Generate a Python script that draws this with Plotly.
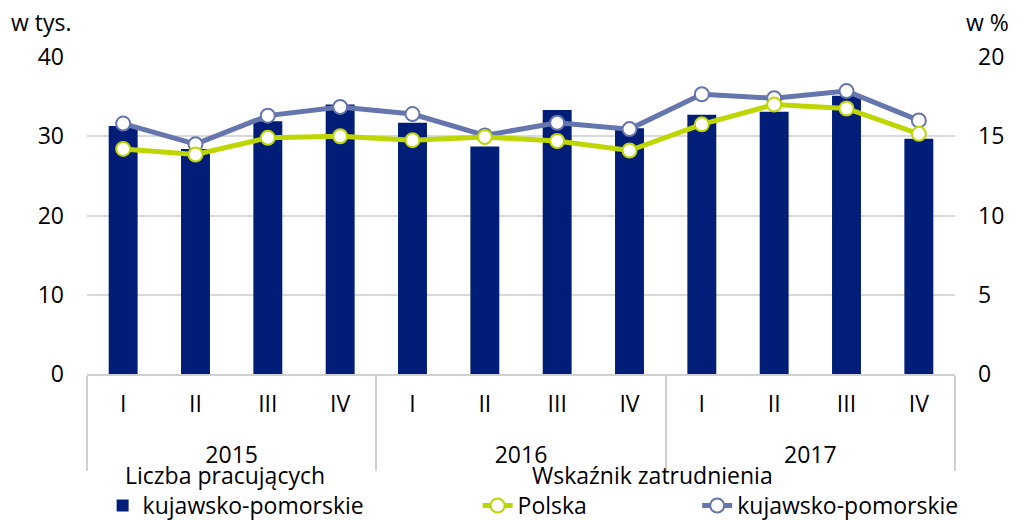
import plotly.graph_objects as go

# dane
lata = ['2015', '2015', '2015', '2015', '2016', '2016', '2016', '2016', '2017', '2017', '2017', '2017']
kwartaly = ['I', 'II', 'III', 'IV', 'I', 'II', 'III', 'IV', 'I', 'II', 'III', 'IV']
pracujacy_kp = [31.3, 28.4, 31.9, 34.0, 31.7, 28.7, 33.3, 31.0, 32.7, 33.1, 35.1, 29.7]
wskaznik_polska = [14.2, 13.85, 14.9, 15.0, 14.75, 14.95, 14.7, 14.1, 15.75, 17.0, 16.75, 15.15]
wskaznik_kp = [15.8, 14.5, 16.3, 16.85, 16.4, 15.05, 15.85, 15.45, 17.65, 17.4, 17.85, 16.0]

NAVY = '#001e78'
GREEN = '#bed600'
SLATE = '#6575ad'
FONT = 'Open Sans'
FS = 23

# dodatkowa (mała) linia pod kwartałem odsuwa podpis roku w dół
kw_labels = [k + "<br><span style='font-size:6px'> </span>" for k in kwartaly]
x = [lata, kw_labels]

fig = go.Figure()
fig.add_trace(go.Bar(x=x, y=pracujacy_kp, name='kujawsko-pomorskie',
                     marker_color=NAVY, marker_line_width=0, legend='legend'))
fig.add_trace(go.Scatter(x=x, y=wskaznik_kp, name='kujawsko-pomorskie', yaxis='y2',
                         mode='lines+markers', line=dict(color=SLATE, width=5),
                         marker=dict(size=14, color='white', line=dict(color=SLATE, width=2)),
                         legend='legend3'))
fig.add_trace(go.Scatter(x=x, y=wskaznik_polska, name='Polska', yaxis='y2',
                         mode='lines+markers', line=dict(color=GREEN, width=5),
                         marker=dict(size=14, color='white', line=dict(color=GREEN, width=2)),
                         legend='legend2'))

leg = dict(orientation='h', yanchor='middle', y=-0.415, xanchor='left',
           font=dict(size=FS, color='#000000'), bgcolor='rgba(0,0,0,0)')

# strona ma 8 px marginesu body, stąd przesunięcie
fig.update_layout(
    width=1026, height=520,
    margin=dict(l=79, r=79, t=49, b=154, autoexpand=False),
    plot_bgcolor='white', paper_bgcolor='white',
    font=dict(family=FONT, size=FS, color='#000000'),
    bargap=0.6,
    xaxis=dict(type='multicategory', range=[-0.5, 11.5], showgrid=False, showline=True,
               linecolor='#d0d0d0', linewidth=2, showdividers=True, dividercolor='#d0d0d0',
               dividerwidth=2, ticks='', ticklabelstandoff=8, automargin=False),
    yaxis=dict(range=[0, 40], dtick=10, showgrid=True, gridcolor='#d9d9d9', gridwidth=2,
               zeroline=False, ticklabelstandoff=22, automargin=False),
    yaxis2=dict(range=[0, 20], dtick=5, overlaying='y', side='right', showgrid=False,
                zeroline=False, ticklabelstandoff=22, automargin=False),
    showlegend=True,
    legend=dict(leg, x=0.018),
    legend2=dict(leg, x=0.45),
    legend3=dict(leg, x=0.703),
    annotations=[
        dict(text='w tys.', xref='paper', yref='paper', x=-0.09, y=1.11, xanchor='left',
             yanchor='middle', showarrow=False),
        dict(text='w %', xref='paper', yref='paper', x=1.01, y=1.11, xanchor='left',
             yanchor='middle', showarrow=False),
        dict(text='Liczba pracujących', xref='paper', yref='paper', x=0.041, y=-0.32,
             xanchor='left', yanchor='middle', showarrow=False),
        dict(text='Wskaźnik zatrudnienia', xref='paper', yref='paper', x=0.51, y=-0.32,
             xanchor='left', yanchor='middle', showarrow=False),
    ],
)

fig.write_html('out.html')
